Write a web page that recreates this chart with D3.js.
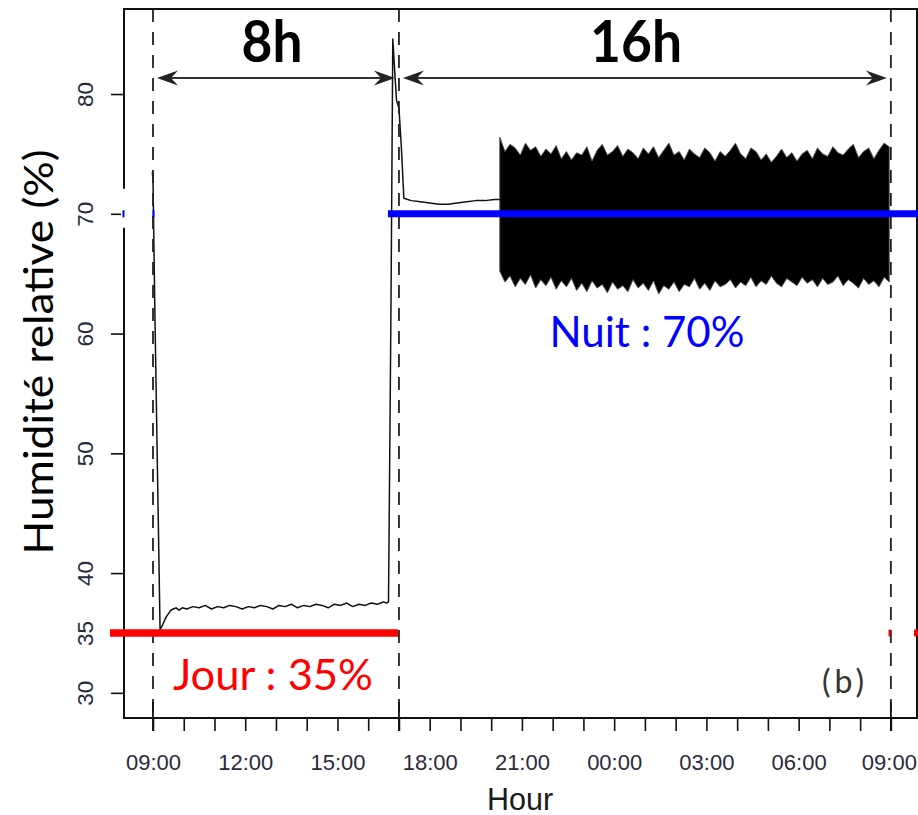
<!DOCTYPE html>
<html>
<head>
<meta charset="utf-8">
<script src="https://cdn.jsdelivr.net/npm/d3@7"></script>
<style>
  html, body { margin: 0; padding: 0; background: #fff; }
  svg { display: block; }
</style>
</head>
<body>
<svg id="chart" width="918" height="815"></svg>
<script>
// ---- data -------------------------------------------------------------
// Hours elapsed since the start of the light period (09:00) and relative humidity (%)
const traceHours = [
  -0.02, 0.00, 0.06, 0.23, 0.28, 0.35, 0.42, 0.50, 0.58, 0.66, 0.75, 0.85, 0.95,
  1.1, 1.3, 1.5, 1.7, 1.9, 2.1, 2.3, 2.5, 2.7, 2.9, 3.1, 3.3, 3.5, 3.7, 3.9,
  4.1, 4.3, 4.5, 4.7, 4.9, 5.1, 5.3, 5.5, 5.7, 5.9, 6.1, 6.3, 6.5, 6.7, 6.9,
  7.1, 7.3, 7.5, 7.6, 7.66, 7.74, 7.80, 7.86, 7.92, 8.00, 8.08, 8.16,
  8.4, 8.7, 9.0, 9.3, 9.6, 9.9, 10.2, 10.5, 10.8, 11.1, 11.28
];
const traceValues = [
  73.5, 72.8, 62.0, 35.3, 35.5, 35.9, 36.3, 36.6, 36.9, 37.0, 37.1, 36.9, 37.1,
  37.0, 37.2, 37.1, 37.3, 37.0, 37.2, 37.1, 37.3, 37.2, 37.0, 37.2, 37.1, 37.3, 37.2, 37.0,
  37.3, 37.2, 37.4, 37.1, 37.3, 37.2, 37.4, 37.3, 37.1, 37.4, 37.3, 37.5, 37.2, 37.4, 37.3,
  37.5, 37.4, 37.6, 37.5, 37.6, 62.0, 84.6, 82.0, 79.5, 78.8, 75.5, 71.3,
  71.1, 71.0, 70.9, 70.8, 70.8, 70.9, 71.0, 71.1, 71.1, 71.2, 71.2
];

// Night regulation cycling: envelope of the humidity swings, sampled every 10 min from 20:17
const bandStartHour = 11.28;
const bandStepMinutes = 10;
const bandUpper = [
  76.4, 75.2, 75.8, 75.5, 74.9, 75.9, 75.3, 75.6, 74.8, 75.4, 75.0, 75.7, 74.6,
  75.2, 74.5, 75.1, 74.9, 75.6, 74.4, 75.3, 75.8, 74.9, 75.2, 75.7, 74.8, 75.4, 75.1, 74.6, 75.5,
  75.0, 75.6, 74.7, 75.3, 75.9, 74.9, 75.2, 74.5, 75.4, 75.0, 74.7, 75.5, 75.1, 74.4, 75.2, 74.8,
  75.3, 75.9, 75.0, 74.6, 75.5, 75.2, 74.5, 75.0, 74.3, 74.8, 75.4, 74.7, 75.1, 74.4, 75.0, 75.3,
  74.6, 75.5, 75.0, 74.8, 75.6, 75.1, 74.9, 75.4, 75.8, 74.7, 75.2, 75.5, 74.6, 75.3, 75.9, 75.6
];
const bandLower = [
  65.2, 64.3, 64.8, 63.9, 64.6, 64.1, 64.9, 63.8, 64.5, 64.0, 64.7, 63.7, 64.4,
  63.9, 64.6, 63.6, 64.2, 63.5, 64.4, 63.8, 64.1, 63.4, 64.3, 63.7, 64.0, 63.5, 64.5, 63.8, 64.2,
  63.6, 64.4, 63.3, 64.0, 63.7, 64.3, 63.5, 64.1, 63.9, 64.6, 63.7, 64.2, 63.6, 64.4, 63.9, 64.1,
  64.5, 63.8, 64.3, 64.0, 64.7, 63.9, 64.4, 64.1, 64.8, 64.2, 63.9, 64.6, 64.3, 64.0, 64.7, 64.2,
  64.5, 63.9, 64.6, 64.1, 64.3, 64.8, 64.0, 64.5, 64.2, 63.8, 64.6, 64.1, 64.4, 63.9, 64.7, 64.3
];

// Photoperiod boundaries (hours since 09:00) and their durations
const periodBounds = [0, 8, 24];
const periodLabels = ["8h", "16h"];

// Humidity set points
const setpointLabels = ["Jour : 35%", "Nuit : 70%"];
const setpointValues = [35, 70];

const yTickValues = [30, 35, 40, 50, 60, 70, 80];
const xLabelEvery = 3;
const panelLabel = "(b)";
const xTitle = "Hour";
const yTitle = "Humidité relative (%)";

// ---- layout -----------------------------------------------------------
const svg = d3.select("#chart");
const plot = { left: 124, right: 917, top: 9, bottom: 718 };

const base = new Date(2024, 0, 10, 9, 0, 0);
const at = h => new Date(base.getTime() + h * 3600e3);

const x = d3.scaleTime()
  .domain([at(-0.943), at(24.85)])
  .range([plot.left, plot.right]);
const y = d3.scaleLinear()
  .domain([27.9, 87.1])
  .range([plot.bottom, plot.top]);

const sansR = "'Liberation Sans', Arial, sans-serif";
const sansC = "Lato, 'Open Sans', sans-serif";

// ---- data layers ------------------------------------------------------
svg.append("clipPath").attr("id", "plotclip")
  .append("rect")
  .attr("x", plot.left).attr("y", plot.top)
  .attr("width", plot.right - plot.left).attr("height", plot.bottom - plot.top);

const layer = svg.append("g").attr("clip-path", "url(#plotclip)");

const bandData = bandUpper.map((u, i) => ({
  t: at(bandStartHour + i * bandStepMinutes / 60),
  hi: u,
  lo: bandLower[i]
}));

layer.append("path")
  .datum(bandData)
  .attr("fill", "#000")
  .attr("stroke", "#555")
  .attr("stroke-width", 1)
  .attr("stroke-linejoin", "miter")
  .attr("d", d3.area()
    .x(d => x(d.t))
    .y0(d => y(d.lo))
    .y1(d => y(d.hi)));

const traceData = traceHours.map((h, i) => ({ t: at(h), v: traceValues[i] }));
layer.append("path")
  .datum(traceData)
  .attr("fill", "none")
  .attr("stroke", "#111")
  .attr("stroke-width", 1.5)
  .attr("stroke-linejoin", "round")
  .attr("d", d3.line().x(d => x(d.t)).y(d => y(d.v)));

// ---- photoperiod dashed boundaries -----------------------------------
svg.append("g").selectAll("line")
  .data(periodBounds)
  .join("line")
  .attr("x1", d => x(at(d))).attr("x2", d => x(at(d)))
  .attr("y1", plot.top).attr("y2", plot.bottom)
  .attr("stroke", "#222")
  .attr("stroke-width", 1.8)
  .attr("stroke-dasharray", "13,10");

// ---- axes -------------------------------------------------------------
const hourTicks = x.ticks(d3.timeHour.every(1));
const fmt = d3.timeFormat("%H:%M");

const xAxis = svg.append("g")
  .attr("transform", `translate(0,${plot.bottom})`)
  .call(d3.axisBottom(x)
    .tickValues(hourTicks)
    .tickSize(13)
    .tickSizeOuter(0)
    .tickPadding(23)
    .tickFormat(d => d.getHours() % xLabelEvery === 0 ? fmt(d) : ""));
xAxis.select(".domain").remove();
xAxis.selectAll(".tick line").attr("stroke", "#111").attr("stroke-width", 1.6);
xAxis.selectAll(".tick text")
  .attr("font-family", sansR).attr("font-size", 22).attr("fill", "#2a2a3a");
// keep the final label inside the page edge
xAxis.selectAll(".tick text").filter((d, i, n) => i === n.length - 1).attr("dx", -2);

// longer ticks marking the photoperiod boundaries
xAxis.selectAll(".boundtick")
  .data(periodBounds)
  .join("line")
  .attr("x1", d => x(at(d))).attr("x2", d => x(at(d)))
  .attr("y1", -16).attr("y2", 13)
  .attr("stroke", "#111").attr("stroke-width", 1.8);

const yAxis = svg.append("g")
  .attr("transform", `translate(${plot.left},0)`)
  .call(d3.axisLeft(y).tickValues(yTickValues).tickSize(13).tickSizeOuter(0));
yAxis.select(".domain").remove();
yAxis.selectAll(".tick line").attr("stroke", "#111").attr("stroke-width", 1.6);
yAxis.selectAll(".tick text").remove();
yAxis.selectAll(".tick").append("text")
  .attr("transform", "translate(-31,0) rotate(-90)")
  .attr("text-anchor", "middle")
  .attr("font-family", sansR).attr("font-size", 22.5)
  .attr("fill", "#2a2a3a")
  .text(d => d);

// plot frame
svg.append("rect")
  .attr("x", plot.left).attr("y", plot.top)
  .attr("width", plot.right - plot.left).attr("height", plot.bottom - plot.top)
  .attr("fill", "none").attr("stroke", "#111").attr("stroke-width", 2);

// ---- set points -------------------------------------------------------
const dayY = y(setpointValues[0]);
const nightY = y(setpointValues[1]);

svg.append("line")
  .attr("x1", 110).attr("x2", x(at(periodBounds[1])) - 1)
  .attr("y1", dayY).attr("y2", dayY)
  .attr("stroke", "#ff0000").attr("stroke-width", 7.5);
svg.append("line")
  .attr("x1", x(at(periodBounds[1])) - 11).attr("x2", 918)
  .attr("y1", nightY).attr("y2", nightY)
  .attr("stroke", "#0000ff").attr("stroke-width", 7);

// leftover stubs of the set-point lines at the plot edges
svg.append("rect").attr("x", 121).attr("y", nightY - 25).attr("width", 6).attr("height", 39).attr("fill", "#fff");
[[123.5, 2], [153.5, 2]].forEach(([cx, w]) => {
  svg.append("rect").attr("x", cx - w / 2).attr("y", nightY - 3.5).attr("width", w).attr("height", 7).attr("fill", "#0000ff");
});
[[889.5, 2], [916, 4]].forEach(([cx, w]) => {
  svg.append("rect").attr("x", cx - w / 2).attr("y", dayY - 3.5).attr("width", w).attr("height", 7).attr("fill", "#ff0000");
});

svg.append("text")
  .attr("x", 273).attr("y", 690)
  .attr("text-anchor", "middle")
  .attr("font-family", sansC).attr("font-size", 42)
  .attr("textLength", 200).attr("lengthAdjust", "spacingAndGlyphs")
  .attr("fill", "#ff0000")
  .text(setpointLabels[0]);
svg.append("text")
  .attr("x", 647).attr("y", 347)
  .attr("text-anchor", "middle")
  .attr("font-family", sansC).attr("font-size", 42)
  .attr("textLength", 195).attr("lengthAdjust", "spacingAndGlyphs")
  .attr("fill", "#0000ff")
  .text(setpointLabels[1]);

// ---- duration arrows --------------------------------------------------
const arrowY = 78;
function arrowHead(tipX, dir) {
  // dir = +1 points right, -1 points left
  const len = 21, half = 7.5, notch = 14;
  return `M${tipX},${arrowY} L${tipX - dir * len},${arrowY - half} L${tipX - dir * notch},${arrowY} L${tipX - dir * len},${arrowY + half} Z`;
}
const arrows = svg.append("g");
periodLabels.forEach((lab, i) => {
  const xa = x(at(periodBounds[i])) + 4;
  const xb = x(at(periodBounds[i + 1])) - 4;
  arrows.append("line")
    .attr("x1", xa + 10).attr("x2", xb - 10)
    .attr("y1", arrowY).attr("y2", arrowY)
    .attr("stroke", "#333").attr("stroke-width", 2);
  arrows.append("path").attr("d", arrowHead(xa, -1)).attr("fill", "#222");
  arrows.append("path").attr("d", arrowHead(xb, 1)).attr("fill", "#222");
});

svg.append("text")
  .attr("x", 272).attr("y", 62)
  .attr("text-anchor", "middle")
  .attr("font-family", sansC).attr("font-weight", "bold").attr("font-size", 58)
  .attr("textLength", 61).attr("lengthAdjust", "spacingAndGlyphs")
  .attr("fill", "#000")
  .text(periodLabels[0]);
svg.append("text")
  .attr("x", 636).attr("y", 62)
  .attr("text-anchor", "middle")
  .attr("font-family", sansC).attr("font-weight", "bold").attr("font-size", 58)
  .attr("textLength", 92).attr("lengthAdjust", "spacingAndGlyphs")
  .attr("fill", "#000")
  .text(periodLabels[1]);

// ---- titles -----------------------------------------------------------
svg.append("text")
  .attr("x", 845).attr("y", 693)
  .attr("text-anchor", "middle")
  .attr("font-family", sansC).attr("font-size", 32)
  .attr("letter-spacing", 4)
  .attr("fill", "#333")
  .text(panelLabel);

svg.append("text")
  .attr("x", 520).attr("y", 810)
  .attr("text-anchor", "middle")
  .attr("font-family", sansR).attr("font-size", 30.5)
  .attr("fill", "#1a1a1a")
  .text(xTitle);

svg.append("text")
  .attr("transform", "translate(53,352) rotate(-90)")
  .attr("text-anchor", "middle")
  .attr("font-family", sansC).attr("font-size", 40)
  .attr("textLength", 405).attr("lengthAdjust", "spacingAndGlyphs")
  .attr("fill", "#000")
  .text(yTitle);
</script>
</body>
</html>
